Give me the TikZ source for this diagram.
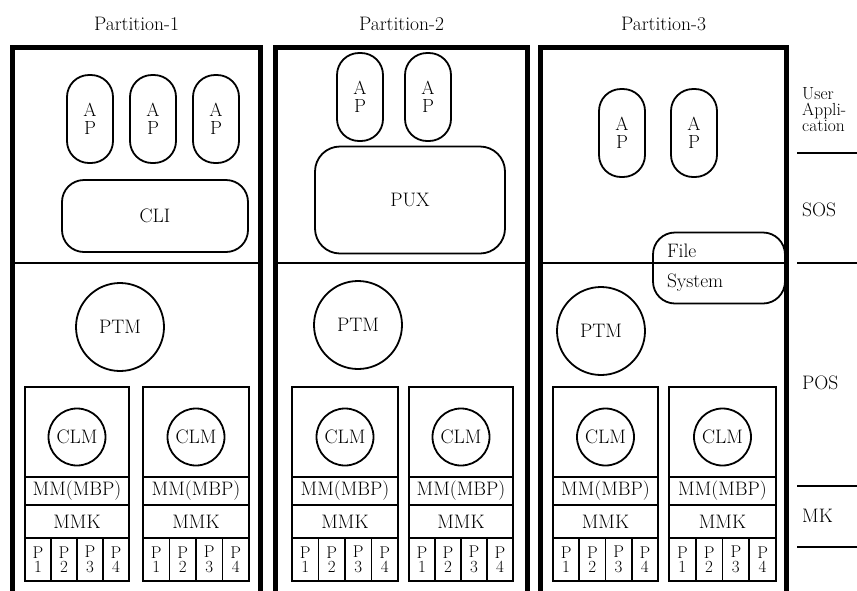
\documentclass[tikz,border=0pt]{standalone}
\usetikzlibrary{positioning}

\tikzset{
  every node/.style={font=\fontsize{19.5}{21}\selectfont},
  partbox/.style={draw,line width=4.5pt,outer sep=0pt,anchor=north west},
  pill/.style={draw,line width=1.8pt,rounded corners=22pt,minimum width=46,minimum height=88,inner sep=0pt,align=center,font=\fontsize{19}{17.5}\selectfont},
  roundbox/.style={draw,line width=1.8pt,rounded corners=22pt},
  circ/.style={draw,circle,line width=1.8pt,inner sep=0pt},
  row/.style={draw,line width=1.8pt,inner sep=0pt,outer sep=0pt,anchor=north west},
  pcell/.style={row,minimum height=43,align=center,font=\fontsize{17}{14.5}\selectfont},
  lbl/.style={anchor=west,inner sep=0pt}
}

\begin{document}
\begin{tikzpicture}[x=1pt,y=-1pt]
\useasboundingbox (0,0) rectangle (857,590);

% the three partitions, open at the bottom
\node[partbox,minimum width=248,minimum height=560] (part1) at (12.5,47.5) {};
\node[partbox,minimum width=252,minimum height=560] (part2) at (275.5,47.5) {};
\node[partbox,minimum width=246,minimum height=560] (part3) at (540.5,47.5) {};
\foreach \i in {1,2,3}
  \node[above=13pt of part\i.north] (title\i) {Partition-\i};

% user applications and SOS
\foreach \nm/\x/\y in {a/90/119,b/153/119,c/216/119,d/360/97,e/428/97,f/622/133,g/694/133}
  \node[pill] (ap\nm) at (\x,\y) {A\\P};
\node[roundbox,minimum width=186,minimum height=72] (cli) at (155,216) {CLI};
\node[roundbox,rounded corners=25pt,minimum width=190,minimum height=107] (pux) at (410,200) {PUX};
\node[roundbox,minimum width=132,minimum height=71,text width=104,align=left] (fs) at (719,268) {File\\[9pt]System};

% SOS / POS border
\foreach \i in {1,2,3}
  \draw[line width=1.1pt] (part\i.west |- 0,263) -- (part\i.east |- 0,263);

\node[circ,minimum size=88] (ptm1) at (120,327) {PTM};
\node[circ,minimum size=88] (ptm2) at (358,325) {PTM};
\node[circ,minimum size=88] (ptm3) at (601,331) {PTM};

% CLM blocks with MM, MMK and the four processors
\foreach \nm/\l/\r in {a/25/129,b/143/249,c/292/398,d/409/513,e/553/658,f/669/776}{
  \pgfmathsetmacro\w{\r-\l}
  \node[row,minimum width=\w,minimum height=90] (top\nm) at (\l,387) {};
  \node[circ,minimum size=57] (clm\nm) at ([yshift=-5pt]top\nm.center) {CLM};
  \node[row,minimum width=\w,minimum height=28] (mm\nm) at (top\nm.south west) {MM(MBP)};
  \node[row,minimum width=\w,minimum height=33] (mmk\nm) at (mm\nm.south west) {MMK};
  \foreach \k in {1,...,4}
    \node[pcell,minimum width=\w/4] (p\nm\k) at ([xshift={(\k-1)*\w/4}]mmk\nm.south west) {P\\\k};
  \draw[line width=2.8pt] (top\nm.north west) rectangle (p\nm4.south east);
}

% layer names on the right
\node[anchor=north west,align=left,inner sep=0pt,font=\fontsize{17.5}{16}\selectfont] (ua) at (802,87) {User\\Appli-\\cation};
\node[lbl] (sos) at (802,210) {SOS};
\node[lbl] (pos) at (802,383) {POS};
\node[lbl] (mk) at (802,516) {MK};
\foreach \y in {153,263,486,547}
  \draw[line width=1.5pt] (797,\y) -- (857,\y);
\end{tikzpicture}
\end{document}
